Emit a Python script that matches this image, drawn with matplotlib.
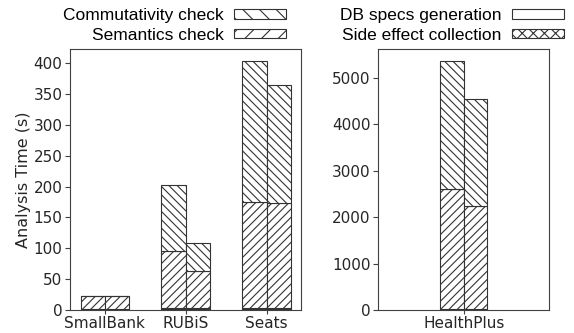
"""
Stacked analysis-time bars (two variants per benchmark), split into
two panels because HealthPlus is an order of magnitude slower.

Output:
    out.png
"""

import numpy as np
import matplotlib.pyplot as plt
from matplotlib.patches import Patch
from matplotlib.ticker import MultipleLocator


# ---------------------------------------------------------------------
# Data (seconds); two bars per benchmark
# ---------------------------------------------------------------------

left_benchmarks = ["SmallBank", "RUBiS", "Seats"]
right_benchmarks = ["HealthPlus"]

# layer order, bottom to top
db_specs_left = [[0.5, 2, 2], [0.5, 2, 2]]
side_effect_left = [[0.5, 2, 2], [0.5, 2, 2]]
semantics_left = [[21, 92, 171], [21, 60, 170]]
commutativity_left = [[1.5, 107, 228], [1.5, 44, 190]]

db_specs_right = [[5], [5]]
side_effect_right = [[15], [15]]
semantics_right = [[2580], [2228]]
commutativity_right = [[2751], [2292]]

legend_left = ["Commutativity check", "Semantics check"]
legend_right = ["DB specs generation", "Side effect collection"]


# ---------------------------------------------------------------------
# Style
# ---------------------------------------------------------------------

EDGE = "0.2"
BAR_WIDTH = 0.3
plt.rcParams.update({
    "hatch.color": EDGE,
    "hatch.linewidth": 0.8,
    "font.size": 11,
    "axes.edgecolor": "0.25",
    "xtick.color": "0.25",
    "ytick.color": "0.25",
    "xtick.labelcolor": "0.15",
    "ytick.labelcolor": "0.15",
})

LAYERS = [
    ("DB specs generation", ""),
    ("Side effect collection", "xxxx"),
    ("Semantics check", "////"),
    ("Commutativity check", "\\\\\\\\"),
]


def draw_panel(ax, names, layers):
    x = np.arange(len(names))
    for variant, offset in enumerate([-BAR_WIDTH / 2, BAR_WIDTH / 2]):
        bottom = np.zeros(len(names))
        for (label, hatch), values in zip(LAYERS, layers):
            v = np.array(values[variant], dtype=float)
            ax.bar(x + offset, v, BAR_WIDTH, bottom=bottom,
                   color="white", edgecolor=EDGE, linewidth=0.8,
                   hatch=hatch)
            bottom += v
    ax.set_xticks(x)
    ax.set_xticklabels(names, fontsize=11)
    ax.tick_params(axis="y", labelsize=11, length=3.5, pad=2)
    ax.tick_params(axis="x", length=3, pad=1)


fig = plt.figure(figsize=(5.74, 3.33), dpi=100)
ax_left = fig.add_axes([0.122, 0.069, 0.403, 0.784])
ax_right = fig.add_axes([0.659, 0.069, 0.298, 0.784])

draw_panel(ax_left, left_benchmarks,
           [db_specs_left, side_effect_left, semantics_left, commutativity_left])
draw_panel(ax_right, right_benchmarks,
           [db_specs_right, side_effect_right, semantics_right, commutativity_right])

ax_left.yaxis.set_major_locator(MultipleLocator(50))
ax_right.yaxis.set_major_locator(MultipleLocator(1000))
ax_right.set_xlim(-1.1, 1.1)
ax_left.set_ylabel("Analysis Time (s)", fontsize=11.5, color="0.15", labelpad=2)


# ---------------------------------------------------------------------
# Legends (text first, hatch swatch on the right)
# ---------------------------------------------------------------------

def swatch(hatch):
    return Patch(facecolor="white", edgecolor=EDGE, linewidth=0.8, hatch=hatch)


legend_kw = dict(frameon=False, markerfirst=False, loc="upper right",
                 prop={"family": "Liberation Sans", "size": 12.5},
                 handlelength=3.0, handleheight=0.5, handletextpad=0.6,
                 labelspacing=0.25, borderaxespad=0, borderpad=0)

fig.legend([swatch("\\\\"), swatch("//")], legend_left,
           bbox_to_anchor=(0.499, 0.975), **legend_kw)
fig.legend([swatch(""), swatch("xxx")], legend_right,
           bbox_to_anchor=(0.982, 0.975), **legend_kw)

fig.savefig("out.png", dpi=100)
